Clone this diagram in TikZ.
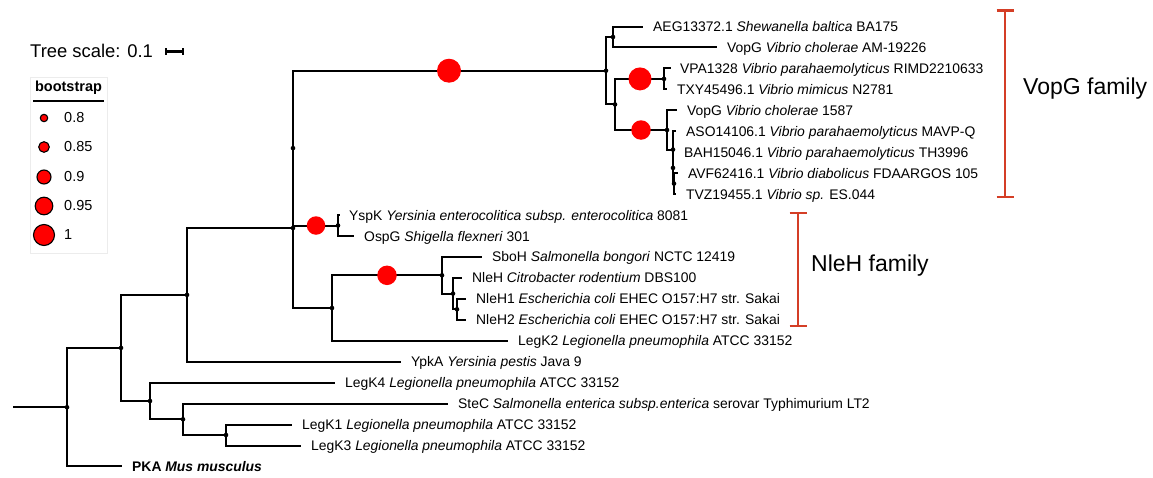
\documentclass[tikz,border=0pt]{standalone}
\usepackage{fontspec}
\setmainfont{Liberation Sans}
\usetikzlibrary{positioning}
\definecolor{bootred}{RGB}{255,0,0}
\definecolor{famred}{RGB}{212,62,38}
\tikzset{
    branch/.style={line width=2pt, black},
    boot/.style={circle, fill=bootred, inner sep=0pt, minimum size=#1},
    leaf/.style={inner sep=0pt, text height=13pt, text depth=3pt, font=\fontsize{13.9}{16}\selectfont},
    famline/.style={famred, line width=2.6pt},
    famlabel/.style={anchor=west, inner sep=0pt, font=\fontsize{23}{27}\selectfont}
}

\begin{document}
\begin{tikzpicture}[x=1pt, y=-1pt]
        \useasboundingbox (0,0) rectangle (1153,477);
        % internal nodes
        \coordinate (root) at (13,407.2);
        \coordinate (n1) at (67,407.2);
        \coordinate (n2) at (121,347.9);
        \coordinate (n3) at (187,294.9);
        \coordinate (n4) at (150,401.0);
        \coordinate (n5) at (183,419.3);
        \coordinate (n6) at (226,435.0);
        \coordinate (n7) at (293,228.0);
        \coordinate (n8) at (293,148.1);
        \coordinate (n9) at (332,308.0);
        \coordinate (ysp) at (338,225.5);
        \coordinate (nle) at (442,275.3);
        \coordinate (nle2) at (453,293.6);
        \coordinate (nle3) at (457,309.3);
        \coordinate (vop) at (606,70.7);
        \coordinate (vopb) at (613,37.0);
        \coordinate (vopc) at (664,78.9);
        \coordinate (vopd) at (615,104.4);
        \coordinate (vope) at (667,130.0);
        \coordinate (vopf) at (673,149.6);
        \coordinate (vopg) at (673,167.9);
        \coordinate (voph) at (674,183.6);
        % leaf tips
        \coordinate (t0) at (643,26.5);
        \coordinate (t1) at (717,47.45);
        \coordinate (t2) at (671,68.4);
        \coordinate (t3) at (667,89.35);
        \coordinate (t4) at (677,110.3);
        \coordinate (t5) at (676,131.25);
        \coordinate (t6) at (674,152.2);
        \coordinate (t7) at (678,173.15);
        \coordinate (t8) at (676,194.1);
        \coordinate (t9) at (340,215.05);
        \coordinate (t10) at (354,236.0);
        \coordinate (t11) at (482,256.95);
        \coordinate (t12) at (462,277.9);
        \coordinate (t13) at (466,298.85);
        \coordinate (t14) at (466,319.8);
        \coordinate (t15) at (508,340.75);
        \coordinate (t16) at (401,361.7);
        \coordinate (t17) at (335,382.65);
        \coordinate (t18) at (448,403.6);
        \coordinate (t19) at (292,424.55);
        \coordinate (t20) at (301,445.5);
        \coordinate (t21) at (122,466.45);

        % branches
        \draw [branch] (root) -- (n1);
        \draw [branch] (n1) |- (n2);
        \draw [branch] (n1) |- (t21);
        \draw [branch] (n2) |- (n3);
        \draw [branch] (n2) |- (n4);
        \draw [branch] (n3) |- (n7);
        \draw [branch] (n3) |- (t16);
        \draw [branch] (n4) |- (t17);
        \draw [branch] (n4) |- (n5);
        \draw [branch] (n5) |- (t18);
        \draw [branch] (n5) |- (n6);
        \draw [branch] (n6) |- (t19);
        \draw [branch] (n6) |- (t20);
        \draw [branch] (n7) |- (n8);
        \draw [branch] (n7) |- (n9);
        \draw [branch] (n8) |- (vop);
        \draw [branch] (n8) |- (ysp);
        \draw [branch] (ysp) |- (t9);
        \draw [branch] (ysp) |- (t10);
        \draw [branch] (n9) |- (nle);
        \draw [branch] (n9) |- (t15);
        \draw [branch] (nle) |- (t11);
        \draw [branch] (nle) |- (nle2);
        \draw [branch] (nle2) |- (t12);
        \draw [branch] (nle2) |- (nle3);
        \draw [branch] (nle3) |- (t13);
        \draw [branch] (nle3) |- (t14);
        \draw [branch] (vop) |- (vopb);
        \draw [branch] (vop) |- (vopd);
        \draw [branch] (vopb) |- (t0);
        \draw [branch] (vopb) |- (t1);
        \draw [branch] (vopd) |- (vopc);
        \draw [branch] (vopd) |- (vope);
        \draw [branch] (vopc) |- (t2);
        \draw [branch] (vopc) |- (t3);
        \draw [branch] (vope) |- (t4);
        \draw [branch] (vope) |- (vopf);
        \draw [branch] (vopf) |- (t5);
        \draw [branch] (vopf) |- (vopg);
        \draw [branch] (vopg) |- (t6);
        \draw [branch] (vopg) |- (voph);
        \draw [branch] (voph) |- (t7);
        \draw [branch] (voph) |- (t8);
        \foreach \k in {n1,n2,n3,n4,n5,n6,n7,n8,n9,ysp,nle,nle2,nle3,vop,vopb,vopc,vopd,vope,vopf,vopg,voph}
            \fill (\k) circle (2.3pt);

        % bootstrap circles
        \node [boot=24pt] (bs1) at (449,70.7) {};
        \node [boot=23pt] (bs2) at (640,78.9) {};
        \node [boot=19.5pt] (bs3) at (641,130.0) {};
        \node [boot=18.5pt] (bs4) at (316,225.5) {};
        \node [boot=19.5pt] (bs5) at (387,275.3) {};

        % leaf labels
        \node [leaf, right=10pt of t0] (l0) {AEG13372.1 \textit{Shewanella baltica} BA175};
        \node [leaf, right=10pt of t1] (l1) {VopG \textit{Vibrio cholerae} AM-19226};
        \node [leaf, right=9pt of t2] (l2) {VPA1328 \textit{Vibrio parahaemolyticus} RIMD2210633};
        \node [leaf, right=10pt of t3] (l3) {TXY45496.1 \textit{Vibrio mimicus} N2781};
        \node [leaf, right=10pt of t4] (l4) {VopG \textit{Vibrio cholerae} 1587};
        \node [leaf, right=10pt of t5] (l5) {ASO14106.1 \textit{Vibrio parahaemolyticus} MAVP-Q};
        \node [leaf, right=10pt of t6] (l6) {BAH15046.1 \textit{Vibrio parahaemolyticus} TH3996};
        \node [leaf, right=10pt of t7] (l7) {AVF62416.1 \textit{Vibrio diabolicus} FDAARGOS 105};
        \node [leaf, right=10pt of t8] (l8) {TVZ19455.1 \textit{Vibrio sp.} ES.044};
        \node [leaf, right=9pt of t9] (l9) {YspK \textit{Yersinia enterocolitica subsp. enterocolitica} 8081};
        \node [leaf, right=10pt of t10] (l10) {OspG \textit{Shigella flexneri} 301};
        \node [leaf, right=10pt of t11] (l11) {SboH \textit{Salmonella bongori} NCTC 12419};
        \node [leaf, right=10pt of t12] (l12) {NleH \textit{Citrobacter rodentium} DBS100};
        \node [leaf, right=10pt of t13] (l13) {NleH1 \textit{Escherichia coli} EHEC O157:H7 str. Sakai};
        \node [leaf, right=10pt of t14] (l14) {NleH2 \textit{Escherichia coli} EHEC O157:H7 str. Sakai};
        \node [leaf, right=10pt of t15] (l15) {LegK2 \textit{Legionella pneumophila} ATCC 33152};
        \node [leaf, right=10pt of t16] (l16) {YpkA \textit{Yersinia pestis} Java 9};
        \node [leaf, right=10pt of t17] (l17) {LegK4 \textit{Legionella pneumophila} ATCC 33152};
        \node [leaf, right=10pt of t18] (l18) {SteC \textit{Salmonella enterica subsp.enterica} serovar Typhimurium LT2};
        \node [leaf, right=10pt of t19] (l19) {LegK1 \textit{Legionella pneumophila} ATCC 33152};
        \node [leaf, right=10pt of t20] (l20) {LegK3 \textit{Legionella pneumophila} ATCC 33152};
        \node [leaf, right=10pt of t21] (l21) {\textbf{PKA \textit{Mus musculus}}};

        % family brackets
        \coordinate (vtop) at (1005,10.7);
        \coordinate (vbot) at (1005,197);
        \coordinate (ntop) at (798,213);
        \coordinate (nbot) at (798,326);
        \draw [famline] (vtop) -- (vbot);
        \draw [famline] ([xshift=-8.5pt]vtop) -- ([xshift=8.5pt]vtop);
        \draw [famline] ([xshift=-8.5pt]vbot) -- ([xshift=8.5pt]vbot);
        \draw [famline] (ntop) -- (nbot);
        \draw [famline] ([xshift=-8.5pt]ntop) -- ([xshift=8.5pt]ntop);
        \draw [famline] ([xshift=-8.5pt]nbot) -- ([xshift=8.5pt]nbot);
        \node [famlabel] (vfam) at (1023,89) {VopG family};
        \node [famlabel] (nfam) at (811,266) {NleH family};

        % tree scale and legend
        \node [anchor=west, inner sep=0pt, font=\fontsize{18.4}{22}\selectfont] (tscale) at (30,50.5) {Tree scale: 0.1};
        \coordinate (sbl) at (166,51.5);
        \coordinate (sbr) at (183,51.5);
        \draw [line width=2.4pt] (sbl) -- (sbr);
        \draw [line width=1.6pt] ([yshift=3.5pt]sbl) -- ([yshift=-3.5pt]sbl) ([yshift=3.5pt]sbr) -- ([yshift=-3.5pt]sbr);
        \draw [gray!15, line width=0.8pt] (30,77) rectangle (107,253);
        \node [inner sep=0pt, font=\fontsize{14.5}{17}\selectfont\bfseries] (ltitle) at (68.5,88) {bootstrap};
        \draw [line width=1.3pt] (33,101) -- (104,101);
        \foreach \y/\r/\v in {118/3.7/0.8, 147/5.3/0.85, 177/7/0.9, 206/8.8/0.95, 235/10.5/1} {
            \draw [fill=bootred, line width=1.1pt] (44,\y) circle (\r pt);
            \node [anchor=west, inner sep=0pt, font=\fontsize{14.5}{17}\selectfont] at (64,\y) {\v};
        }
    \end{tikzpicture}
\end{document}
